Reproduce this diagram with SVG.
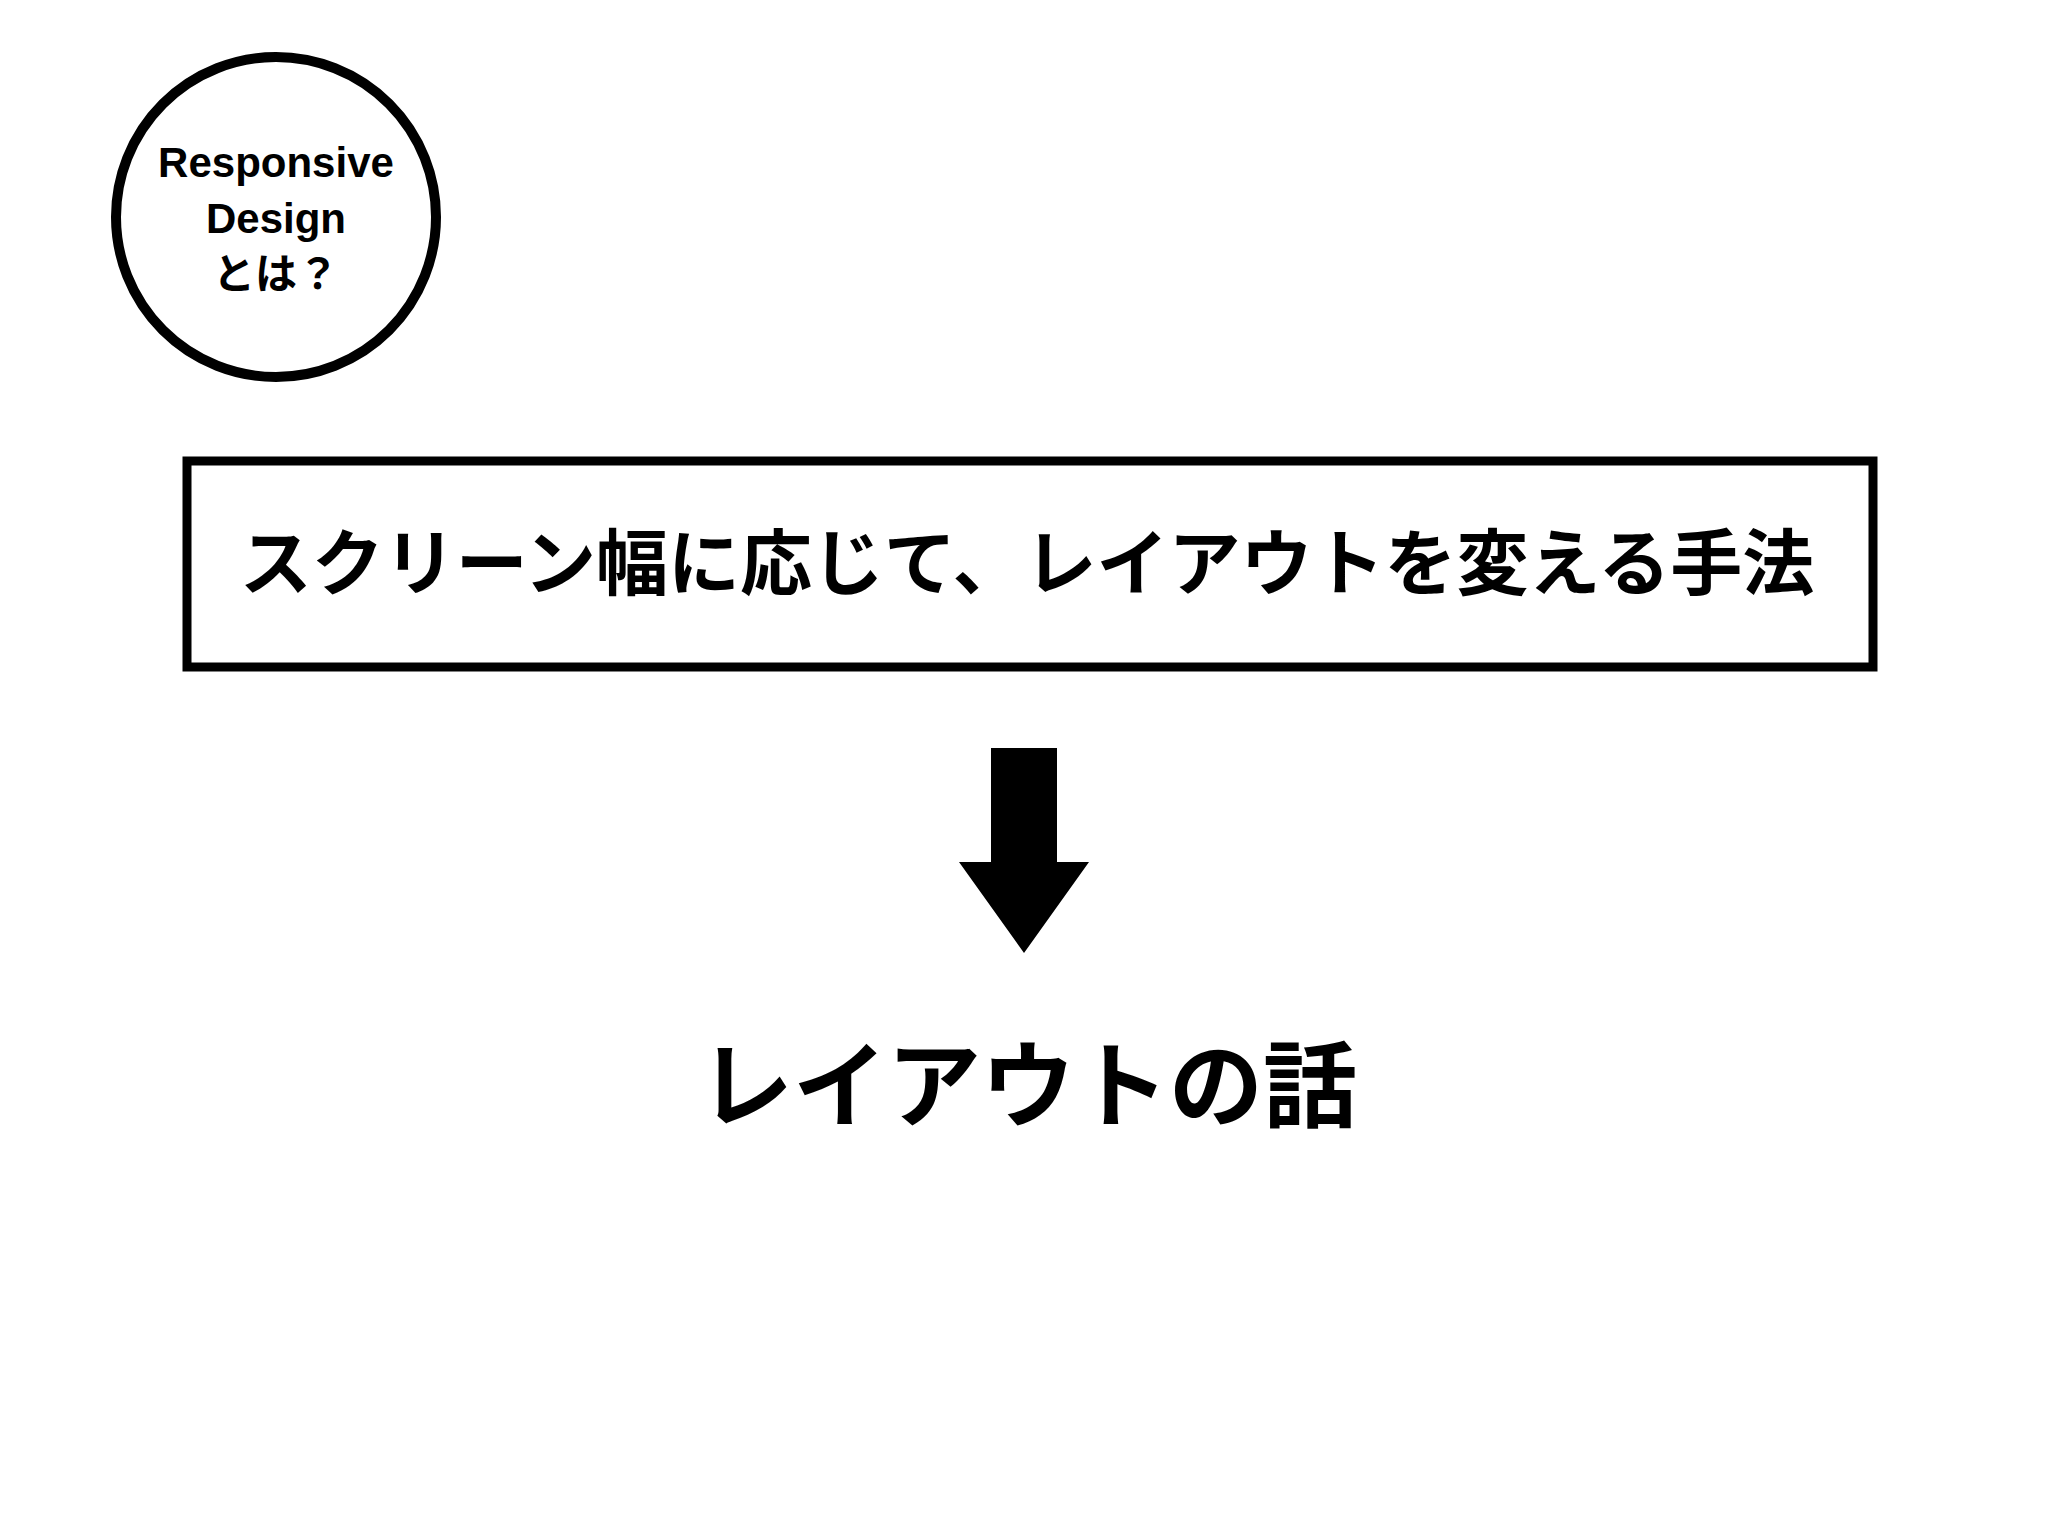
<svg xmlns="http://www.w3.org/2000/svg" width="2048" height="1536" viewBox="0 0 2048 1536">
<style>
.t{font-family:"Liberation Sans","Noto Sans CJK JP",sans-serif;font-weight:bold;fill:#000;text-anchor:middle;dominant-baseline:central}
</style>
<rect width="2048" height="1536" fill="#fff"/>
<g id="badge">
<circle cx="276" cy="217" r="160" fill="none" stroke="#000" stroke-width="10"/>
<text class="t" x="276" y="162" font-size="42">Responsive</text>
<text class="t" x="276" y="218" font-size="42">Design</text>
<text class="t" x="276" y="274" font-size="42">とは？</text>
</g>
<g id="definition">
<rect x="187" y="461" width="1686" height="206" fill="none" stroke="#000" stroke-width="9"/>
<text class="t" x="1027" y="564" font-size="72">スクリーン幅に応じて、レイアウトを変える手法</text>
</g>
<g id="connectors">
<polygon points="991,748 1057,748 1057,862 1089,862 1024,953 959,862 991,862" fill="#000"/>
</g>
<g id="result">
<text class="t" x="1028" y="1087" font-size="94">レイアウトの話</text>
</g>
</svg>
